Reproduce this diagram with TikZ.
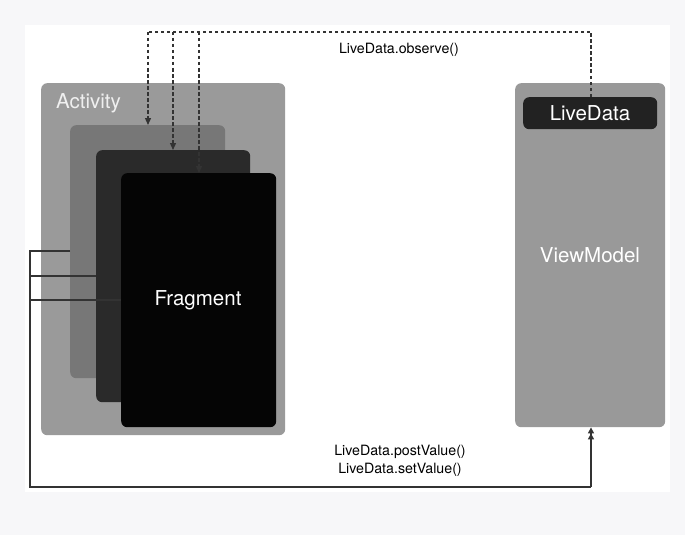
\documentclass[tikz,border=0pt]{standalone}
\usepackage{fontspec}
\setmainfont{TeX Gyre Heros}
\usetikzlibrary{arrows.meta,calc}
\definecolor{bgc}{HTML}{F7F7F9}
\definecolor{actc}{HTML}{9A9A9A}
\definecolor{fr2}{HTML}{777777}
\definecolor{fr3}{HTML}{2A2A2A}
\definecolor{fr4}{HTML}{050505}
\definecolor{vmc}{HTML}{999999}
\definecolor{ldc}{HTML}{222222}
\definecolor{linec}{HTML}{333333}
\definecolor{txtl}{HTML}{F0F0F0}
\tikzset{
  panel/.style={draw=none, rounded corners=6pt, anchor=north west, inner sep=0pt},
  wire/.style={draw=linec, line width=1.3pt},
  dwire/.style={draw=linec, line width=1.3pt, dash pattern=on 3.5pt off 2.5pt},
  tip/.style={-{Triangle[length=7pt,width=6pt]}},
  lbl/.style={font=\fontsize{14.2}{16}\selectfont, text=black},
  big/.style={font=\fontsize{20.5}{24}\selectfont, text=txtl, inner sep=0pt}
}
\begin{document}
\begin{tikzpicture}[x=1pt,y=-1pt]
\useasboundingbox (0,0) rectangle (685,535);
\fill[bgc] (0,0) rectangle (685,535);
\fill[white] (25,25) rectangle (670,492);
% Activity stack
\node[panel, fill=actc, minimum width=244pt, minimum height=352pt] (act) at (41,83) {};
\node[big, anchor=west] (acttxt) at (56,103) {Activity};
\node[panel, fill=fr2, minimum width=155pt, minimum height=253pt] (f2) at (70,125) {};
\node[panel, fill=fr3, minimum width=154pt, minimum height=252pt] (f3) at (96,150) {};
\node[panel, fill=fr4, minimum width=155pt, minimum height=254pt] (f4) at (121,173) {};
\node[big, text=white] (fragtxt) at (198,300) {Fragment};
% ViewModel
\node[panel, fill=vmc, minimum width=150pt, minimum height=344pt] (vm) at (515,83) {};
\node[panel, fill=ldc, minimum width=134pt, minimum height=32pt] (ld) at (523,97) {};
\node[big, text=white] (ldtxt) at (590,113) {LiveData};
\node[big, text=white] (vmtxt) at (590,255) {ViewModel};
% observe dashed connectors
\coordinate (ob) at (591,32);
\coordinate (t1) at (148,32);
\coordinate (t2) at (173,32);
\coordinate (t3) at (199,32);
\draw[dwire] (ld.north -| ob) -- (ob) -- (t1);
\draw[dwire, tip] (t1) -- (t1 |- f2.north);
\draw[dwire, tip] (t2) -- (t2 |- f3.north);
\draw[dwire, tip] (t3) -- (t3 |- f4.north);
\node[lbl] (obtxt) at (399,50) {LiveData.observe()};
% setValue connectors
\coordinate (l1) at (30,251);
\coordinate (l2) at (30,276);
\coordinate (l3) at (30,300);
\coordinate (lb) at (30,487);
\coordinate (rb) at (591,487);
\draw[wire] (f2.west |- l1) -- (l1) -- (lb) -- (rb);
\draw[wire] (f3.west |- l2) -- (l2);
\draw[wire] (f4.west |- l3) -- (l3);
\draw[wire, -{Triangle[length=6pt,width=6pt]Triangle[length=6pt,width=6pt]}] (rb) -- (rb |- vm.south);
\node[lbl] (pvtxt) at (400,452) {LiveData.postValue()};
\node[lbl] (svtxt) at (400,470) {LiveData.setValue()};
\end{tikzpicture}
\end{document}
